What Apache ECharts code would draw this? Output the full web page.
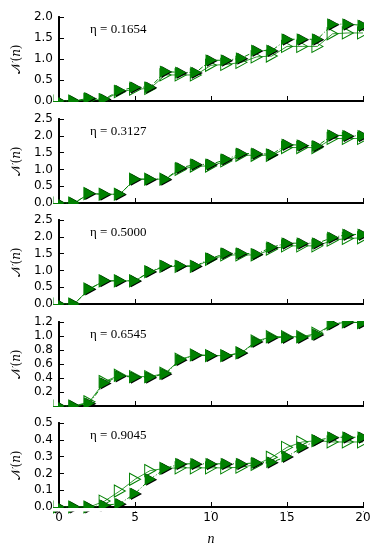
<!DOCTYPE html>
<html>
<head>
<meta charset="utf-8">
<script src="https://cdn.jsdelivr.net/npm/echarts@6/dist/echarts.min.js"></script>
<style>
  html, body { margin: 0; padding: 0; background: #fff; }
  #chart { width: 382px; height: 559px; }
</style>
</head>
<body>
<div id="chart"></div>
<script>
// x positions n = 0..20
var nValues = [0, 1, 2, 3, 4, 5, 6, 7, 8, 9, 10, 11, 12, 13, 14, 15, 16, 17, 18, 19, 20];
var etaLabels = ['0.1654', '0.3127', '0.5000', '0.6545', '0.9045'];

// filled triangles (dash-dot line)
var filled1 = [0, 0, 0.07, 0.05, 0.25, 0.33, 0.33, 0.70, 0.68, 0.68, 0.97, 0.97, 1.02, 1.20, 1.20, 1.47, 1.47, 1.47, 1.83, 1.83, 1.80];
var filled2 = [0, 0, 0.28, 0.26, 0.26, 0.71, 0.71, 0.71, 1.05, 1.15, 1.15, 1.30, 1.47, 1.47, 1.45, 1.74, 1.72, 1.70, 2.02, 2.00, 2.00];
var filled3 = [0, 0, 0.45, 0.69, 0.69, 0.69, 0.97, 1.14, 1.14, 1.13, 1.36, 1.51, 1.51, 1.49, 1.69, 1.81, 1.81, 1.81, 1.98, 2.07, 2.07];
var filled4 = [0, 0, 0.04, 0.33, 0.43, 0.41, 0.41, 0.46, 0.66, 0.73, 0.72, 0.72, 0.76, 0.92, 0.98, 0.98, 0.98, 1.02, 1.17, 1.20, 1.19];
var filled5 = [0, 0, 0, 0.01, 0.02, 0.08, 0.165, 0.23, 0.257, 0.257, 0.257, 0.257, 0.257, 0.263, 0.267, 0.30, 0.355, 0.397, 0.415, 0.415, 0.415];

// open triangles (thin solid line)
var open1 = [0, 0, 0.03, 0.03, 0.22, 0.28, 0.30, 0.62, 0.62, 0.62, 0.85, 0.87, 0.92, 1.05, 1.07, 1.30, 1.30, 1.30, 1.60, 1.62, 1.62];
var open2 = [0, 0, 0.28, 0.26, 0.26, 0.71, 0.71, 0.71, 1.00, 1.10, 1.10, 1.25, 1.42, 1.42, 1.42, 1.65, 1.65, 1.65, 1.92, 1.92, 1.92];
var open3 = [0, 0, 0.45, 0.69, 0.69, 0.69, 0.96, 1.12, 1.12, 1.12, 1.33, 1.46, 1.46, 1.46, 1.63, 1.73, 1.73, 1.73, 1.90, 1.95, 1.97];
var open4 = [0, 0, 0.06, 0.35, 0.44, 0.42, 0.42, 0.47, 0.67, 0.73, 0.72, 0.72, 0.76, 0.93, 0.99, 0.99, 0.99, 1.04, 1.17, 1.20, 1.19];
var open5 = [0, 0, 0, 0.035, 0.095, 0.165, 0.217, 0.23, 0.233, 0.233, 0.233, 0.233, 0.237, 0.253, 0.296, 0.355, 0.387, 0.395, 0.387, 0.387, 0.387];

// y axis ranges / tick steps per panel
var yMaxes = [2.0, 2.5, 2.5, 1.2, 0.5];
var ySteps = [0.5, 0.5, 0.5, 0.2, 0.1];

var filledSets = [filled1, filled2, filled3, filled4, filled5];
var openSets = [open1, open2, open3, open4, open5];

(function () {
    var gridLeft = 59, gridWidth = 304, gridH = 84;
    var gridTops = [17, 119, 220, 322, 423];
    var tri = 'path://M0,0L10,5L0,10Z';
    var green = '#008000';

    function pairs(ys) {
        return nValues.map(function (x, i) { return [x, ys[i]]; });
    }
    function frame() { return { show: true, lineStyle: { color: '#000', width: 2 } }; }
    function ticks() { return { show: true, inside: true, length: 5, lineStyle: { color: '#000', width: 1 } }; }
    function fmt1(v) { return v.toFixed(1); }
    function fmtNoZero(v) { return v === 0 ? '' : v.toFixed(1); }

    var grids = [], xAxes = [], yAxes = [], series = [], graphics = [];

    for (var p = 0; p < 5; p++) {
        var last = p === 4;
        var gTop = gridTops[p], gBot = gridTops[p] + gridH;
        grids.push({ left: gridLeft, top: gTop, width: gridWidth, height: gridH });
        xAxes.push({
            type: 'value', gridIndex: p, min: 0, max: 20, interval: 5, position: 'bottom',
            axisLine: frame(), axisTick: ticks(), splitLine: { show: false },
            axisLabel: { show: last, color: '#000', fontSize: 12, fontFamily: 'DejaVu Sans', margin: 5 },
            name: last ? 'n' : '', nameLocation: 'middle', nameGap: 25,
            nameTextStyle: { fontFamily: 'Liberation Serif', fontStyle: 'italic', fontSize: 14, color: '#000' }
        });
        xAxes.push({
            type: 'value', gridIndex: p, min: 0, max: 20, interval: 5, position: 'top',
            axisLine: frame(), axisTick: ticks(), splitLine: { show: false }, axisLabel: { show: false }
        });
        yAxes.push({
            type: 'value', gridIndex: p, min: 0, max: yMaxes[p], interval: ySteps[p], position: 'left',
            axisLine: frame(), axisTick: ticks(), splitLine: { show: false },
            axisLabel: {
                color: '#000', fontSize: 12, fontFamily: 'DejaVu Sans', margin: 6,
                formatter: p === 3 ? fmtNoZero : fmt1
            },
            name: '\uD835\uDCA9(\uD835\uDC5B)', nameLocation: 'middle', nameGap: 28,
            nameTextStyle: { fontFamily: 'DejaVu Serif', fontSize: 12, color: '#000' }
        });
        yAxes.push({
            type: 'value', gridIndex: p, min: 0, max: yMaxes[p], interval: ySteps[p], position: 'right',
            axisLine: frame(), axisTick: ticks(), splitLine: { show: false }, axisLabel: { show: false }
        });

        var xi = p * 2, yi = p * 2;
        // open triangles with thin solid line
        series.push({
            type: 'line', xAxisIndex: xi, yAxisIndex: yi, data: pairs(openSets[p]), z: 2,
            symbol: tri, symbolSize: [11, 12], showAllSymbol: true,
            itemStyle: { color: 'rgba(0,0,0,0)', borderColor: green, borderWidth: 1 },
            lineStyle: { color: green, width: 1, opacity: 0.8 }
        });
        // black shadow under the filled triangles
        series.push({
            type: 'line', xAxisIndex: xi, yAxisIndex: yi, data: pairs(filledSets[p]), z: 3,
            symbol: tri, symbolSize: [11, 12], symbolOffset: [1.5, 0.5], showAllSymbol: true,
            itemStyle: { color: '#000' }, lineStyle: { width: 0, opacity: 0 }
        });
        // green filled triangles with dash-dot line
        series.push({
            type: 'line', xAxisIndex: xi, yAxisIndex: yi, data: pairs(filledSets[p]), z: 4,
            symbol: tri, symbolSize: [11, 12], showAllSymbol: true,
            itemStyle: { color: green },
            lineStyle: { color: green, width: 1, type: [5, 2, 1, 2] }
        });

        graphics.push({
            type: 'text', x: gridLeft + 31, y: gTop + 13, z: 20,
            style: {
                text: '\u03b7 = ' + etaLabels[p], font: '13px "Liberation Serif"', fill: '#000',
                verticalAlign: 'middle'
            }
        });

        // white masks so markers get cut at the frame
        graphics.push({ type: 'rect', z: 10, silent: true, shape: { x: 53, y: gTop - 8, width: 329, height: 7 }, style: { fill: '#fff' } });
        graphics.push({ type: 'rect', z: 10, silent: true, shape: { x: 53, y: gBot + 1, width: 329, height: last ? 3.5 : 7 }, style: { fill: '#fff' } });
        graphics.push({ type: 'rect', z: 10, silent: true, shape: { x: 53.5, y: gTop, width: 4.5, height: gridH }, style: { fill: '#fff' } });
        graphics.push({ type: 'rect', z: 10, silent: true, shape: { x: 364, y: gTop - 8, width: 20, height: gridH + (last ? 9 : 16) }, style: { fill: '#fff' } });
    }

    var myChart = echarts.init(document.getElementById('chart'));
    myChart.setOption({
        backgroundColor: '#fff',
        animation: false,
        grid: grids,
        xAxis: xAxes,
        yAxis: yAxes,
        series: series,
        graphic: graphics
    });
    window.addEventListener('resize', function () { myChart.resize(); });
})();
</script>
</body>
</html>
